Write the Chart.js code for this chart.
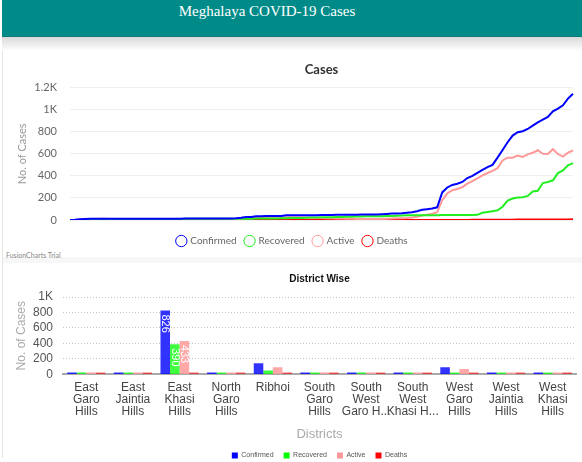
<!DOCTYPE html>
<html>
<head>
<meta charset="utf-8">
<script src="https://cdn.jsdelivr.net/npm/chart.js@4.4.0/dist/chart.umd.min.js"></script>
<style>
  body { margin: 0; width: 582px; height: 462px; overflow: hidden; background: #fff; position: relative; }
  #hdr { position: absolute; left: 2px; top: 0; width: 580px; height: 36px; background: #008b89; border-bottom: 1px solid #0a7b79; }
  #hdr h1 { margin: 0; position: absolute; left: 0; top: 3px; width: 530px; text-align: center; font: normal 15px "Liberation Serif", serif; color: #fff; }
  #shade { position: absolute; left: 2px; top: 37px; width: 580px; height: 14px; background: linear-gradient(#d9d9d9, #fff); }
  #card { position: absolute; left: 2px; top: 51px; width: 578px; height: 407px; border-left: 1px solid #e6e6e6; }
  #sep { position: absolute; left: 3px; top: 257px; width: 579px; height: 6px; background: #f7f7f7; }
  #trial { position: absolute; left: 6px; top: 251px; font: 7px Lato, sans-serif; color: #888; }
  .box { position: absolute; left: 4px; width: 576px; }
  #b1 { top: 52px; height: 210px; }
  #b2 { top: 264px; height: 205px; }
</style>
</head>
<body>
<div id="hdr"><h1>Meghalaya COVID-19 Cases</h1></div>
<div id="shade"></div>
<div id="card"></div>
<div id="sep"></div>
<div id="trial">FusionCharts Trial</div>
<div class="box" id="b1"><canvas id="lineChart"></canvas></div>
<div class="box" id="b2"><canvas id="barChart"></canvas></div>
<script>
// daily totals (Apr 13 onwards)
const confirmed = [
  1, 2, 7, 9, 11, 11, 12, 12, 12, 12,
  12, 12, 12, 12, 12, 12, 12, 12, 12, 12,
  12, 12, 12, 13, 13, 13, 13, 14, 14, 14,
  14, 14, 14, 16, 20, 27, 27, 33, 33, 36,
  36, 36, 36, 43, 44, 44, 44, 44, 44, 44,
  45, 46, 46, 47, 47, 48, 48, 48, 50, 50,
  50, 50, 52, 55, 58, 60, 62, 66, 71, 80,
  92, 98, 105, 115, 250, 295, 318, 328, 345, 380,
  400, 428, 455, 480, 500, 565, 635, 705, 765, 795,
  805, 825, 855, 885, 910, 935, 985, 1010, 1040, 1100, 1145
];
const recovered = [
  0, 0, 0, 0, 0, 0, 0, 0, 1, 1,
  1, 2, 2, 3, 3, 4, 4, 6, 8, 10,
  10, 10, 10, 11, 11, 11, 11, 11, 11, 11,
  11, 11, 11, 11, 11, 12, 12, 13, 13, 13,
  13, 14, 15, 16, 17, 18, 19, 20, 22, 23,
  24, 25, 26, 27, 28, 29, 30, 31, 32, 33,
  33, 34, 35, 36, 37, 38, 40, 42, 42, 42,
  43, 43, 44, 44, 45, 45, 46, 46, 46, 46,
  46, 47, 65, 72, 80, 88, 120, 175, 195, 203,
  207, 218, 258, 265, 335, 345, 360, 425, 450, 495, 515
];
const active = [
  1, 2, 6, 8, 10, 10, 11, 11, 10, 10,
  10, 9, 9, 8, 8, 7, 7, 5, 3, 1,
  1, 1, 1, 1, 1, 1, 1, 2, 2, 2,
  2, 2, 2, 4, 8, 14, 14, 19, 19, 22,
  22, 21, 20, 26, 26, 25, 24, 22, 20, 18,
  17, 16, 15, 14, 13, 12, 11, 10, 10, 10,
  10, 10, 10, 12, 14, 15, 16, 18, 22, 30,
  40, 48, 56, 70, 180, 240, 270, 281, 298, 330,
  352, 378, 405, 426, 445, 470, 540, 565, 565, 585,
  572, 595, 610, 632, 600, 598, 642, 598, 575, 610, 630
];
const deaths = [
  0, 0, 1, 1, 1, 1, 1, 1, 1, 1,
  1, 1, 1, 1, 1, 1, 1, 1, 1, 1,
  1, 1, 1, 1, 1, 1, 1, 1, 1, 1,
  1, 1, 1, 1, 1, 1, 1, 1, 1, 1,
  1, 1, 1, 1, 1, 1, 1, 1, 1, 1,
  1, 1, 1, 1, 1, 1, 1, 1, 1, 1,
  1, 1, 1, 1, 1, 1, 1, 1, 1, 1,
  1, 1, 1, 1, 1, 1, 1, 1, 1, 1,
  2, 2, 2, 2, 2, 2, 2, 2, 3, 4,
  4, 4, 4, 4, 5, 5, 5, 5, 5, 5, 6
];

// district wise figures
const districts = ['East Garo Hills', 'East Jaintia Hills', 'East Khasi Hills', 'North Garo Hills', 'Ribhoi',
  'South Garo Hills', 'South West Garo Hills', 'South West Khasi Hills', 'West Garo Hills',
  'West Jaintia Hills', 'West Khasi Hills'];
const districtTicks = [['East', 'Garo', 'Hills'], ['East', 'Jaintia', 'Hills'], ['East', 'Khasi', 'Hills'],
  ['North', 'Garo', 'Hills'], ['Ribhoi'], ['South', 'Garo', 'Hills'], ['South', 'West', 'Garo H...'],
  ['South', 'West', 'Khasi H...'], ['West', 'Garo', 'Hills'], ['West', 'Jaintia', 'Hills'], ['West', 'Khasi', 'Hills']];
const distConfirmed = [3, 25, 826, 6, 145, 4, 12, 2, 92, 20, 10];
const distRecovered = [3, 18, 390, 4, 52, 3, 10, 2, 20, 10, 8];
const distActive = [0, 7, 433, 2, 92, 1, 2, 0, 71, 9, 2];
const distDeaths = [0, 0, 3, 0, 1, 0, 0, 0, 1, 1, 0];

// hidden date labels for the daily series
const start = new Date(2020, 3, 13);
const dates = confirmed.map(function (_, i) {
  const d = new Date(start);
  d.setDate(d.getDate() + i);
  return d.toISOString().slice(0, 10);
});

function kFormat(v) {
  return v >= 1000 ? (v / 1000) + 'K' : v;
}

new Chart(document.getElementById('lineChart'), {
  type: 'line',
  data: {
    labels: dates,
    datasets: [
      { label: 'Confirmed', data: confirmed, borderColor: '#0000ff', backgroundColor: '#fff' },
      { label: 'Recovered', data: recovered, borderColor: '#22ee22', backgroundColor: '#fff' },
      { label: 'Active', data: active, borderColor: '#ff9999', backgroundColor: '#fff' },
      { label: 'Deaths', data: deaths, borderColor: '#ff0000', backgroundColor: '#fff' }
    ]
  },
  options: {
    responsive: true,
    maintainAspectRatio: false,
    animation: false,
    layout: { padding: { left: 8, right: 7, bottom: 6 } },
    elements: { point: { radius: 0 }, line: { borderWidth: 2, tension: 0 } },
    plugins: {
      title: {
        display: true, text: 'Cases', fullSize: false, color: '#333',
        font: { family: 'Lato', size: 13, weight: 'bold' },
        padding: { top: 10, bottom: 10 }
      },
      legend: {
        position: 'bottom',
        labels: {
          usePointStyle: true, pointStyle: 'circle', boxWidth: 8, boxHeight: 8,
          color: '#666', font: { family: 'Lato', size: 10 }, padding: 9
        }
      },
      tooltip: { enabled: false }
    },
    scales: {
      // x labels are not shown; the axis only keeps a small gap above the legend
      x: {
        ticks: { display: false },
        grid: { display: false, drawTicks: false },
        border: { display: false },
        afterFit: function (scale) { scale.height = 7; }
      },
      y: {
        min: 0, max: 1200,
        afterFit: function (scale) { scale.width = 58; },
        ticks: { stepSize: 200, autoSkip: false, color: '#666', padding: 13, font: { family: 'Lato', size: 11 }, callback: kFormat },
        grid: { color: '#efefef', drawTicks: false },
        border: { display: false },
        title: { display: true, text: 'No. of Cases', color: '#999', font: { family: 'Lato', size: 11 } }
      }
    }
  }
});

// rotated value labels inside the tall bars
const valueLabels = {
  id: 'valueLabels',
  afterDatasetsDraw(chart) {
    const ctx = chart.ctx;
    chart.data.datasets.forEach(function (ds, di) {
      chart.getDatasetMeta(di).data.forEach(function (bar, i) {
        if (bar.base - bar.y < 20) return;
        ctx.save();
        ctx.translate(bar.x, bar.y + 4);
        ctx.rotate(Math.PI / 2);
        ctx.fillStyle = '#fff';
        ctx.font = '11px "Liberation Sans"';
        ctx.textAlign = 'left';
        ctx.textBaseline = 'middle';
        ctx.fillText(String(ds.data[i]), 0, 0);
        ctx.restore();
      });
    });
  }
};

const solid = ['#0000ff', '#00ff00', '#ff9999', '#ff0000'];

new Chart(document.getElementById('barChart'), {
  type: 'bar',
  data: {
    labels: districtTicks,
    datasets: [
      { label: 'Confirmed', data: distConfirmed, backgroundColor: 'rgba(0,0,255,0.8)' },
      { label: 'Recovered', data: distRecovered, backgroundColor: 'rgba(0,255,0,0.75)' },
      { label: 'Active', data: distActive, backgroundColor: 'rgba(255,153,153,0.85)' },
      { label: 'Deaths', data: distDeaths, backgroundColor: 'rgba(255,0,0,0.6)' }
    ]
  },
  plugins: [valueLabels],
  options: {
    responsive: true,
    maintainAspectRatio: false,
    animation: false,
    layout: { padding: { left: 6, right: 4 } },
    datasets: { bar: { barPercentage: 1, categoryPercentage: 0.82, minBarLength: 2 } },
    plugins: {
      title: {
        display: true, text: 'District Wise', fullSize: false, color: '#111',
        font: { family: 'Liberation Sans', size: 10, weight: 'bold' },
        padding: { top: 9, bottom: 12 }
      },
      legend: {
        position: 'bottom', fullSize: false,
        labels: {
          boxWidth: 6, boxHeight: 6, color: '#555', padding: 10,
          font: { family: 'Liberation Sans', size: 7 },
          generateLabels: function (chart) {
            return Chart.defaults.plugins.legend.labels.generateLabels(chart).map(function (l, i) {
              l.fillStyle = solid[i];
              l.strokeStyle = solid[i];
              l.lineWidth = 0;
              return l;
            });
          }
        }
      },
      tooltip: { enabled: false }
    },
    scales: {
      x: {
        grid: { display: false, drawTicks: false },
        border: { display: true, color: '#aaa', width: 2 },
        ticks: { color: '#444', padding: 7, maxRotation: 0, autoSkip: false, font: { family: 'Liberation Sans', size: 12, lineHeight: 1 } },
        title: { display: true, text: 'Districts', color: '#aaa', font: { family: 'Liberation Sans', size: 13 }, padding: { top: 2, bottom: 0 } }
      },
      y: {
        min: 0, max: 1000,
        afterFit: function (scale) { scale.width = 53; },
        ticks: { stepSize: 200, autoSkip: false, color: '#555', padding: 10, font: { family: 'Liberation Sans', size: 12 }, callback: kFormat },
        grid: { color: '#c4c4c4', drawTicks: false },
        border: { display: false, dash: [1, 2] },
        title: { display: true, text: 'No. of Cases', color: '#aaa', font: { family: 'Liberation Sans', size: 12 } }
      }
    }
  }
});
</script>
</body>
</html>
